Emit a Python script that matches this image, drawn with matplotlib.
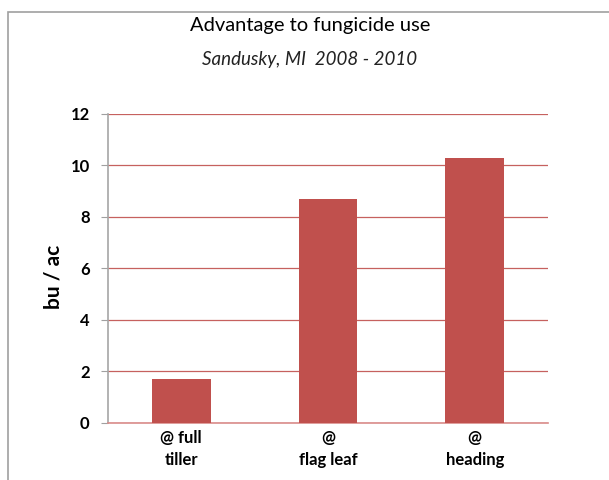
import matplotlib.pyplot as plt
from matplotlib.patches import Rectangle

# values
categories = ["@ full\ntiller", "@\nflag leaf", "@\nheading"]
yield_gain = [1.7, 8.7, 10.3]
y_ticks = [0, 2, 4, 6, 8, 10, 12]

plt.rcParams["font.family"] = ["Lato", "DejaVu Sans"]

fig = plt.figure(figsize=(6.09, 4.8), dpi=100)
ax = fig.add_axes([0.177, 0.119, 0.723, 0.644])

# outer chart frame (runs off the right/bottom edges)
fig.patches.append(Rectangle((8 / 609, -0.05), 1.1, 0.05 + 1 - 12 / 480,
                             transform=fig.transFigure, fill=False,
                             edgecolor="#a0a0a0", linewidth=1.2))

red = "#c0504d"
x = list(range(len(categories)))
ax.bar(x, yield_gain, width=0.4, color=red, zorder=3)

ax.set_xlim(-0.5, len(categories) - 0.5)
ax.set_ylim(0, 12)
ax.set_yticks(y_ticks)
ax.set_xticks(x)
ax.set_xticklabels(categories, fontsize=12, fontweight="bold", linespacing=1.5)
ax.set_yticklabels([str(t) for t in y_ticks], fontsize=12, fontweight="bold")
ax.yaxis.grid(True, color=red, linewidth=0.9, alpha=0.9, zorder=0)
ax.tick_params(axis="y", length=5, color="#a0a0a0", pad=8)
ax.tick_params(axis="x", length=0, pad=5)

for side in ("top", "right"):
    ax.spines[side].set_visible(False)
ax.spines["left"].set_color("#a6a6a6")
ax.spines["left"].set_linewidth(1.2)
ax.spines["bottom"].set_color("#d98c8a")
ax.spines["bottom"].set_linewidth(1.2)

# y label placed like the original (a little below the plot's middle)
fig.text(53 / 609, 1 - 277 / 480, "bu / ac", rotation=90, ha="center",
         va="center", fontsize=15, fontweight="bold")

fig.text(0.509, 1 - 26 / 480, "Advantage to fungicide use", ha="center",
         va="center", fontsize=14.5, color="black")
fig.text(0.509, 1 - 60 / 480, "Sandusky, MI  2008 - 2010", ha="center",
         va="center", fontsize=13.5, style="italic", color="#222222")

fig.savefig("out.png", dpi=100)
